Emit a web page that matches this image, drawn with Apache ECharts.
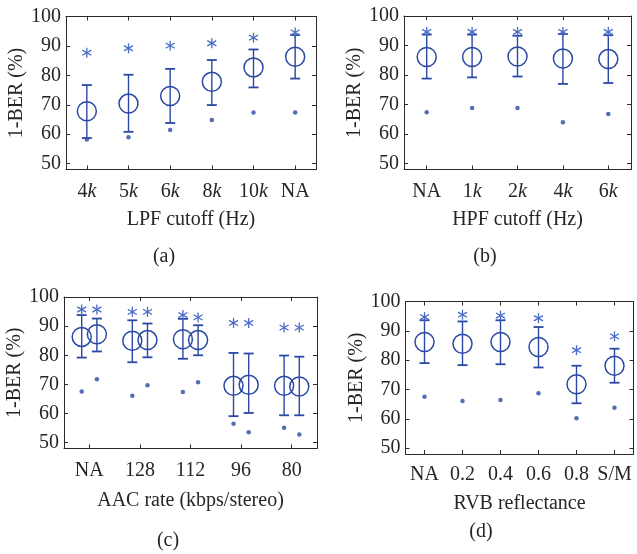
<!DOCTYPE html>
<html><head><meta charset="utf-8">
<script src="https://cdn.jsdelivr.net/npm/echarts@6/dist/echarts.min.js"></script>
<style>html,body{margin:0;padding:0;background:#fff}#c{width:637px;height:554px}</style>
</head><body><div id="c"></div>
<script>
// ---------- data ----------
const yTickValues = [50, 60, 70, 80, 90, 100];

const lpfCategories = ['4k', '5k', '6k', '8k', '10k', 'NA'];
const lpfMean    = [67.8, 70.4, 73.0, 77.8, 82.7, 86.3];
const lpfErrLow  = [58.7, 60.8, 63.8, 69.9, 75.9, 78.9];
const lpfErrHigh = [76.7, 80.2, 82.2, 85.2, 88.8, 93.7];
const lpfMax     = [87.7, 89.2, 90.1, 90.9, 92.8, 94.6];
const lpfMin     = [58.2, 59.0, 61.4, 64.8, 67.4, 67.4];

const hpfCategories = ['NA', '1k', '2k', '4k', '6k'];
const hpfMean    = [86.1, 86.1, 86.3, 85.6, 85.4];
const hpfErrLow  = [78.8, 79.2, 79.5, 77.0, 77.3];
const hpfErrHigh = [93.7, 93.7, 93.3, 93.9, 93.5];
const hpfMax     = [94.6, 94.6, 94.6, 94.6, 94.6];
const hpfMin     = [67.4, 68.8, 68.8, 64.0, 66.8];

const aacCategories = ['NA', '128', '112', '96', '80'];
const aacMeanA    = [86.3, 85.0, 85.5, 69.5, 69.5];
const aacErrLowA  = [79.2, 77.6, 78.8, 59.1, 59.4];
const aacErrHighA = [93.8, 92.0, 92.5, 80.8, 79.9];
const aacMaxA     = [95.7, 94.9, 93.8, 91.1, 89.5];
const aacMinA     = [67.6, 66.1, 67.4, 56.5, 55.1];
const aacMeanB    = [87.2, 85.2, 85.2, 69.9, 69.3];
const aacErrLowB  = [81.3, 79.3, 80.0, 60.2, 59.4];
const aacErrHighB = [92.6, 90.9, 90.3, 80.6, 79.5];
const aacMaxB     = [95.7, 94.9, 93.0, 91.1, 89.5];
const aacMinB     = [71.8, 69.7, 70.7, 53.6, 52.8];

const rvbCategories = ['NA', '0.2', '0.4', '0.6', '0.8', 'S/M'];
const rvbMean    = [86.2, 85.6, 86.2, 84.5, 71.8, 78.1];
const rvbErrLow  = [79.0, 78.3, 78.6, 77.5, 65.3, 72.3];
const rvbErrHigh = [93.6, 93.2, 93.6, 91.3, 78.1, 83.9];
const rvbMax     = [94.7, 95.5, 95.2, 94.3, 83.4, 88.1];
const rvbMin     = [67.5, 66.1, 66.4, 68.7, 60.2, 63.8];

// ---------- style ----------
const FONT = '"Liberation Serif", "DejaVu Serif", serif';
const TXT = '#262626';
const AX = '#2a2a2a';
const BLUE = '#2a48a5';
const BLUE2 = '#4a6bc4';
const FS = 20;

function fmtCat(c) { return /k$/.test(c) ? c.slice(0, -1) + '{i|k}' : c; }

const panels = [
  { grid: {left: 66, top: 16.5, width: 250, height: 153}, cats: lpfCategories, xName: 'LPF cutoff (Hz)', nameGap: 40, labelMargin: 12,
    groups: [{off: 0, mean: lpfMean, lo: lpfErrLow, hi: lpfErrHigh, max: lpfMax, min: lpfMin}],
    tag: '(a)', tagX: 164, tagY: 257 },
  { grid: {left: 404, top: 16, width: 227, height: 153.5}, cats: hpfCategories, xName: 'HPF cutoff (Hz)', nameGap: 40, labelMargin: 12,
    groups: [{off: 0, mean: hpfMean, lo: hpfErrLow, hi: hpfErrHigh, max: hpfMax, min: hpfMin}],
    tag: '(b)', tagX: 485, tagY: 257 },
  { grid: {left: 64, top: 297, width: 253, height: 151.5}, cats: aacCategories, xName: 'AAC rate (kbps/stereo)', nameGap: 42, labelMargin: 12,
    groups: [{off: -0.15, mean: aacMeanA, lo: aacErrLowA, hi: aacErrHighA, max: aacMaxA, min: aacMinA},
             {off: 0.15, mean: aacMeanB, lo: aacErrLowB, hi: aacErrHighB, max: aacMaxB, min: aacMinB}],
    tag: '(c)', tagX: 168, tagY: 541 },
  { grid: {left: 405.5, top: 301.5, width: 228, height: 152.5}, cats: rvbCategories, xName: 'RVB reflectance', nameGap: 40, labelMargin: 11,
    groups: [{off: 0, mean: rvbMean, lo: rvbErrLow, hi: rvbErrHigh, max: rvbMax, min: rvbMin}],
    tag: '(d)', tagX: 481, tagY: 532 }
];

const grids = [], xAxes = [], yAxes = [], series = [], graphics = [];

panels.forEach((p, i) => {
  grids.push(Object.assign({outerBoundsMode: 'none', containLabel: false}, p.grid));
  const n = p.cats.length;
  const catPos = p.cats.map((_, k) => k + 1);
  const lineStyle = {color: AX, width: 1};
  xAxes.push({
    type: 'value', gridIndex: i, position: 'bottom', min: 0.5, max: n + 0.5,
    axisLine: {show: true, onZero: false, lineStyle},
    axisTick: {show: true, inside: true, length: 4, lineStyle, customValues: catPos},
    axisLabel: {show: true, customValues: catPos, margin: p.labelMargin, color: TXT, fontFamily: FONT, fontSize: FS,
      formatter: v => fmtCat(p.cats[Math.round(v) - 1]),
      rich: {i: {fontStyle: 'italic', fontFamily: FONT, fontSize: FS, color: TXT}}},
    splitLine: {show: false},
    name: p.xName, nameLocation: 'middle', nameGap: p.nameGap,
    nameTextStyle: {color: TXT, fontFamily: FONT, fontSize: FS}
  });
  xAxes.push({
    type: 'value', gridIndex: i, position: 'top', min: 0.5, max: n + 0.5,
    axisLine: {show: true, onZero: false, lineStyle},
    axisTick: {show: true, inside: true, length: 4, lineStyle, customValues: catPos},
    axisLabel: {show: false}, splitLine: {show: false}
  });
  yAxes.push({
    type: 'value', gridIndex: i, position: 'left', min: 48, max: 100,
    axisLine: {show: true, onZero: false, lineStyle},
    axisTick: {show: true, inside: true, length: 4, lineStyle, customValues: yTickValues},
    axisLabel: {show: true, customValues: yTickValues, margin: 5, color: TXT, fontFamily: FONT, fontSize: FS},
    splitLine: {show: false},
    name: '1-BER (%)', nameLocation: 'middle', nameGap: 37, nameRotate: 90,
    nameTextStyle: {color: TXT, fontFamily: FONT, fontSize: FS}
  });
  yAxes.push({
    type: 'value', gridIndex: i, position: 'right', min: 48, max: 100,
    axisLine: {show: true, onZero: false, lineStyle},
    axisTick: {show: true, inside: true, length: 4, lineStyle, customValues: yTickValues},
    axisLabel: {show: false}, splitLine: {show: false}
  });
  const xi = 2 * i, yi = 2 * i;
  p.groups.forEach(g => {
    const xs = catPos.map(c => c + g.off);
    // error bars
    series.push({
      type: 'custom', xAxisIndex: xi, yAxisIndex: yi, silent: true,
      data: xs.map((x, k) => [x, g.lo[k], g.hi[k]]),
      renderItem: (params, api) => {
        const a = api.coord([api.value(0), api.value(1)]);
        const b = api.coord([api.value(0), api.value(2)]);
        const st = {stroke: BLUE, lineWidth: 1.4};
        const w = 5;
        return {type: 'group', children: [
          {type: 'line', shape: {x1: a[0], y1: a[1], x2: b[0], y2: b[1]}, style: st},
          {type: 'line', shape: {x1: a[0] - w, y1: a[1], x2: a[0] + w, y2: a[1]}, style: {stroke: BLUE, lineWidth: 1.8}},
          {type: 'line', shape: {x1: b[0] - w, y1: b[1], x2: b[0] + w, y2: b[1]}, style: {stroke: BLUE, lineWidth: 1.8}}
        ]};
      }
    });
    // mean circles
    series.push({
      type: 'scatter', xAxisIndex: xi, yAxisIndex: yi, silent: true,
      symbol: 'circle', symbolSize: 19,
      itemStyle: {color: 'rgba(0,0,0,0)', borderColor: BLUE, borderWidth: 1.5, opacity: 1},
      data: xs.map((x, k) => [x, g.mean[k]])
    });
    // max asterisks
    series.push({
      type: 'custom', xAxisIndex: xi, yAxisIndex: yi, silent: true,
      data: xs.map((x, k) => [x, g.max[k]]),
      renderItem: (params, api) => {
        const c = api.coord([api.value(0), api.value(1)]);
        const r = 5, dx = 4.5, dy = 2.6;
        const st = {stroke: BLUE2, lineWidth: 1.3};
        return {type: 'group', children: [
          {type: 'line', shape: {x1: c[0], y1: c[1] - r, x2: c[0], y2: c[1] + r}, style: st},
          {type: 'line', shape: {x1: c[0] - dx, y1: c[1] - dy, x2: c[0] + dx, y2: c[1] + dy}, style: st},
          {type: 'line', shape: {x1: c[0] - dx, y1: c[1] + dy, x2: c[0] + dx, y2: c[1] - dy}, style: st}
        ]};
      }
    });
    // min dots
    series.push({
      type: 'scatter', xAxisIndex: xi, yAxisIndex: yi, silent: true,
      symbol: 'circle', symbolSize: 4.5,
      itemStyle: {color: BLUE},
      data: xs.map((x, k) => [x, g.min[k]])
    });
  });
  graphics.push({type: 'text', x: p.tagX, y: p.tagY,
    style: {text: p.tag, fill: TXT, font: FS + 'px ' + FONT, align: 'center', verticalAlign: 'middle'}});
});

const chart = echarts.init(document.getElementById('c'), null, {renderer: 'canvas'});
chart.setOption({
  animation: false,
  backgroundColor: '#fff',
  grid: grids, xAxis: xAxes, yAxis: yAxes, series: series, graphic: graphics
});
</script>
</body></html>
